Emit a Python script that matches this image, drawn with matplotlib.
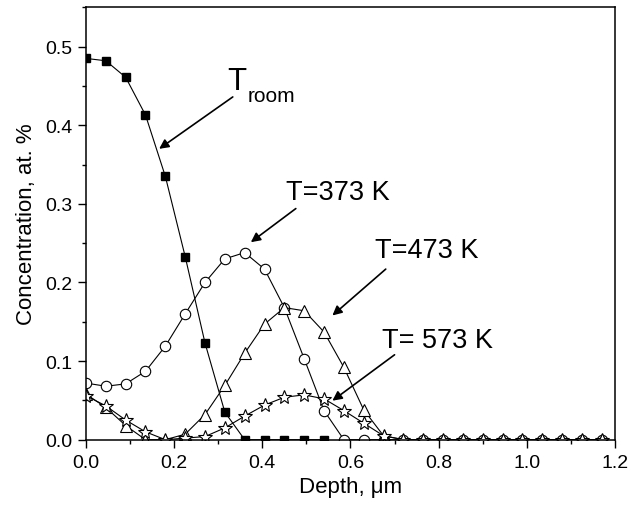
import numpy as np
import matplotlib
matplotlib.use("Agg")
import matplotlib.pyplot as plt
from matplotlib.ticker import MultipleLocator

plt.rcParams['font.family'] = ['Liberation Sans', 'DejaVu Sans']

# depth grid, um
depth = [0.0, 0.045, 0.09, 0.135, 0.18, 0.225, 0.27, 0.315, 0.36, 0.405,
         0.45, 0.495, 0.54, 0.585, 0.63, 0.675, 0.72, 0.765, 0.81, 0.855,
         0.9, 0.945, 0.99, 1.035, 1.08, 1.125, 1.17]

# concentration, at. %
c_room = [0.485, 0.482, 0.461, 0.413, 0.335, 0.233, 0.123, 0.035, 0.0,
          0.0, 0.0, 0.0, 0.0]
c_373 = [0.072, 0.068, 0.071, 0.087, 0.119, 0.160, 0.200, 0.230, 0.238,
         0.217, 0.168, 0.103, 0.037, 0.0, 0.0, 0.0, 0.0, 0.0, 0.0, 0.0,
         0.0, 0.0, 0.0, 0.0, 0.0, 0.0, 0.0]
c_473 = [0.058, 0.041, 0.018, 0.0, 0.0, 0.007, 0.032, 0.069, 0.110, 0.147,
         0.168, 0.164, 0.137, 0.092, 0.038, 0.005, 0.0, 0.0, 0.0, 0.0,
         0.0, 0.0, 0.0, 0.0, 0.0, 0.0, 0.0]
c_573 = [0.056, 0.043, 0.025, 0.010, 0.0, 0.002, 0.004, 0.015, 0.030, 0.044,
         0.054, 0.057, 0.052, 0.037, 0.021, 0.005, 0.0, 0.0, 0.0, 0.0,
         0.0, 0.0, 0.0, 0.0, 0.0, 0.0, 0.0]

fig = plt.figure(figsize=(6.29, 5.10), dpi=100)
ax = fig.add_axes([0.1367, 0.1359, 0.841, 0.8478])

lw = 0.8
ax.plot(depth[:len(c_room)], c_room, '-s', color='black', lw=lw, ms=6,
        mfc='black', mec='black')
ax.plot(depth, c_373, '-o', color='black', lw=lw, ms=7.5, mfc='white',
        mec='black', mew=0.8)
ax.plot(depth, c_473, '-^', color='black', lw=lw, ms=8.5, mfc='white',
        mec='black', mew=0.8)
ax.plot(depth, c_573, '-*', color='black', lw=lw, ms=10, mfc='white',
        mec='black', mew=0.8)

ax.set_xlim(0, 1.2)
ax.set_ylim(0, 0.55)
ax.xaxis.set_major_locator(MultipleLocator(0.2))
ax.xaxis.set_minor_locator(MultipleLocator(0.1))
ax.yaxis.set_major_locator(MultipleLocator(0.1))
ax.yaxis.set_minor_locator(MultipleLocator(0.05))
ax.xaxis.set_major_formatter(plt.FormatStrFormatter('%.1f'))
ax.yaxis.set_major_formatter(plt.FormatStrFormatter('%.1f'))

for s in ax.spines.values():
    s.set_linewidth(1.1)
ax.tick_params(which='major', direction='out', length=5.5, width=1.0,
               labelsize=14, pad=4.5)
ax.tick_params(which='minor', direction='out', length=3, width=1.0)

ax.set_xlabel('Depth, \u03bcm', fontsize=16, labelpad=4)
ax.set_ylabel('Concentration, at. %', fontsize=16, labelpad=6)

arrow = dict(arrowstyle='-|>', color='black', lw=1.2, mutation_scale=14,
             shrinkA=0, shrinkB=0)

# T room
ax.text(0.321, 0.4463, 'T', fontsize=22.5, ha='left', va='baseline')
ax.text(0.366, 0.4307, 'room', fontsize=15, ha='left', va='baseline')
ax.annotate('', xy=(0.166, 0.370), xytext=(0.333, 0.436), arrowprops=arrow)

ax.text(0.4536, 0.3058, 'T=373 K', fontsize=19.5, ha='left', va='baseline')
ax.annotate('', xy=(0.374, 0.2512), xytext=(0.476, 0.294), arrowprops=arrow)

ax.text(0.6554, 0.2318, 'T=473 K', fontsize=19.5, ha='left', va='baseline')
ax.annotate('', xy=(0.559, 0.158), xytext=(0.680, 0.217), arrowprops=arrow)

ax.text(0.672, 0.1174, 'T= 573 K', fontsize=19.5, ha='left', va='baseline')
ax.annotate('', xy=(0.559, 0.0496), xytext=(0.700, 0.108), arrowprops=arrow)

fig.savefig('out.png', dpi=100)
